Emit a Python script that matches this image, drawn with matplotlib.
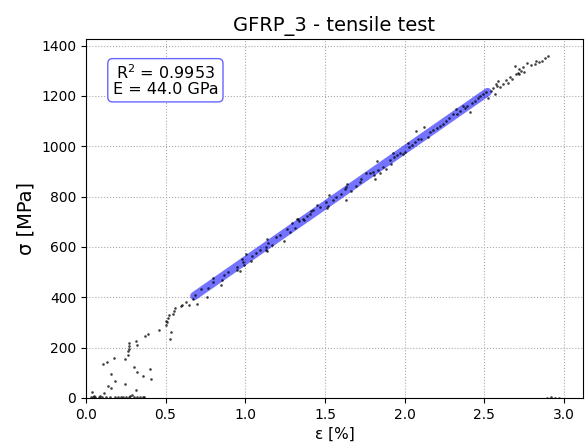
import matplotlib
matplotlib.use('Agg')
from matplotlib import pyplot as plt

strain = [
    0.03, 0.04, 0.045, 0.05, 0.06, 0.08, 0.09, 0.10, 0.109, 0.115, 0.125, 0.132,
    0.138, 0.15, 0.157, 0.157, 0.176, 0.18, 0.182, 0.20, 0.22, 0.23, 0.245, 0.246,
    0.25, 0.265, 0.266, 0.268, 0.27, 0.27, 0.27, 0.28, 0.29, 0.30, 0.303, 0.313,
    0.313, 0.32, 0.32, 0.32, 0.34, 0.36, 0.36, 0.365, 0.372, 0.39, 0.403, 0.41,
    0.46, 0.50, 0.505, 0.51, 0.515, 0.52, 0.53, 0.537, 0.545, 0.55, 0.56, 0.594,
    0.60, 0.63, 0.65, 0.67, 0.683, 0.70, 0.725, 0.76, 0.767, 0.80, 0.80, 0.845,
    0.857, 0.867, 0.892, 0.945, 0.95, 0.966, 0.982, 0.986, 0.993, 1.007, 1.033, 1.043,
    1.07, 1.09, 1.128, 1.128, 1.137, 1.137, 1.143, 1.17, 1.195, 1.216, 1.241, 1.262,
    1.279, 1.29, 1.31, 1.325, 1.331, 1.337, 1.362, 1.37, 1.387, 1.404, 1.415, 1.425,
    1.45, 1.47, 1.505, 1.515, 1.52, 1.525, 1.55, 1.57, 1.60, 1.624, 1.63, 1.634,
    1.638, 1.666, 1.697, 1.722, 1.728, 1.76, 1.78, 1.80, 1.807, 1.814, 1.826, 1.833,
    1.843, 1.864, 1.885, 1.906, 1.916, 1.927, 1.931, 1.95, 1.97, 1.99, 2.00, 2.02,
    2.027, 2.045, 2.063, 2.069, 2.084, 2.10, 2.12, 2.146, 2.16, 2.18, 2.20, 2.22,
    2.24, 2.26, 2.28, 2.30, 2.32, 2.33, 2.35, 2.366, 2.376, 2.39, 2.41, 2.424,
    2.44, 2.46, 2.47, 2.49, 2.51, 2.52, 2.544, 2.554, 2.564, 2.575, 2.58, 2.585,
    2.60, 2.616, 2.633, 2.648, 2.658, 2.67, 2.69, 2.70, 2.71, 2.717, 2.72, 2.73,
    2.74, 2.75, 2.77, 2.79, 2.815, 2.825, 2.84, 2.86, 2.88, 2.90, 2.89, 2.92,
    2.94, 2.97,
]
stress = [
    2, 23, 5, 8, 3, 2, 6, 4, 135, 18, 3, 144,
    48, 5, 95, 40, 160, 3, 67, 3, 4, 2, 55, 153,
    5, 170, 185, 195, 205, 218, 4, 6, 10, 3, 124, 225,
    33, 210, 103, 5, 2, 86, 2, 3, 245, 256, 114, 74,
    272, 290, 305, 300, 318, 330, 236, 262, 335, 345, 356, 367,
    371, 381, 368, 395, 411, 375, 434, 401, 438, 478, 461, 450,
    467, 487, 500, 507, 520, 503, 553, 540, 527, 573, 546, 562,
    575, 588, 586, 599, 632, 583, 615, 609, 641, 648, 622, 672,
    659, 694, 676, 710, 712, 701, 712, 705, 721, 731, 742, 747,
    768, 760, 780, 755, 764, 808, 788, 800, 812, 830, 837, 788,
    850, 824, 843, 857, 870, 892, 893, 896, 886, 870, 940, 907,
    894, 919, 910, 945, 929, 975, 958, 965, 972, 969, 979, 1011,
    995, 1003, 1015, 1061, 1028, 1030, 1078, 1035, 1055, 1065, 1072, 1082,
    1090, 1100, 1114, 1127, 1147, 1127, 1138, 1160, 1153, 1160, 1134, 1173,
    1178, 1190, 1200, 1209, 1217, 1193, 1220, 1233, 1207, 1246, 1239, 1259,
    1236, 1246, 1262, 1253, 1275, 1268, 1319, 1286, 1292, 1306, 1286, 1299,
    1315, 1296, 1332, 1323, 1328, 1338, 1335, 1340, 1351, 1358, 0, 3,
    0, 0,
]

# linear fit over the elastic range
fit_strain = [0.68, 2.52]
fit_stress = [405, 1215]
r_squared = 0.9953
modulus_gpa = 44.0

fig = plt.figure(figsize=(5.88, 4.43), dpi=100)
ax = fig.add_axes([0.146, 0.1016, 0.8455, 0.8104])

ax.scatter(strain, stress, s=3.5, color='k', alpha=0.75, linewidths=0, zorder=3)
ax.plot(fit_strain, fit_stress, color='blue', alpha=0.55, lw=6,
        solid_capstyle='round', zorder=2)

ax.text(0.16, 0.885, f'R$^2$ = {r_squared:.4f}\nE = {modulus_gpa:.1f} GPa',
        transform=ax.transAxes, ha='center', va='center', fontsize=11.5,
        linespacing=1.0,
        bbox=dict(boxstyle='round,pad=0.3', facecolor='white',
                  edgecolor=(0.4, 0.4, 1.0)), zorder=4)

ax.set_xlim(0, max(strain) * 1.05)
ax.set_ylim(0, max(stress) * 1.05)
ax.grid(True, linestyle=':', color='#aaaaaa')
ax.set_axisbelow(True)

ax.set_title('GFRP_3 - tensile test', fontsize=14)
ax.set_xlabel('ε [%]', fontsize=11)
ax.set_ylabel('σ [MPa]', fontsize=14)

plt.savefig('out.png')
plt.close()
